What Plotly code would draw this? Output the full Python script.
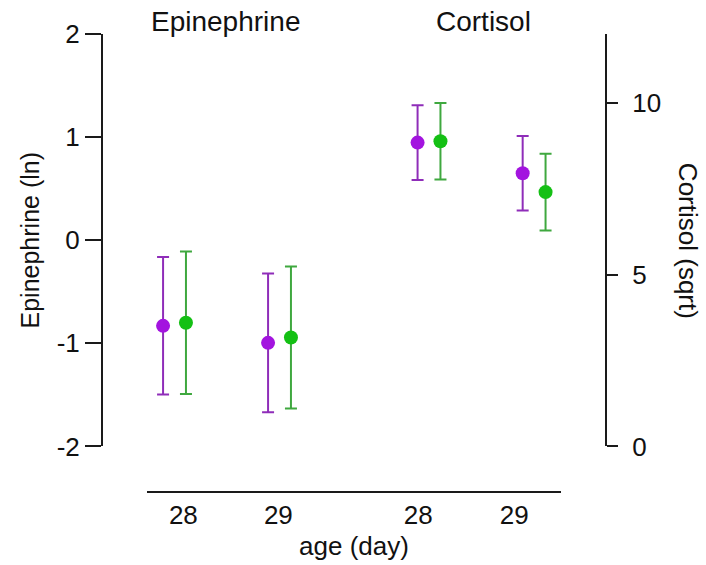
import plotly.graph_objects as go

# Measurement days and their positions along the shared x axis
days = ["28", "29"]
epi_day_pos = [1.0, 2.0]
cort_day_pos = [3.424, 4.425]
tick_pos = [1.084, 1.989, 3.322, 4.236]
tick_text = ["28", "29", "28", "29"]
pair_offset = 0.109

# Epinephrine (ln): means and error half-widths per group
epi_purple = [-0.83, -0.995]
epi_purple_err = [0.667, 0.673]
epi_green = [-0.80, -0.943]
epi_green_err = [0.69, 0.688]

# Cortisol (sqrt): means and error half-widths per group
cort_purple = [8.84, 7.95]
cort_purple_err = [1.085, 1.085]
cort_green = [8.88, 7.40]
cort_green_err = [1.115, 1.115]

# Axis ticks (plain hyphen for negatives)
epi_ticks = [-2, -1, 0, 1, 2]
epi_tick_text = ["-2", "-1", "0", "1", "2"]
cort_ticks = [0, 5, 10]

PURPLE_MARK = "#A314DF"
PURPLE_BAR = "#8F2DB9"
GREEN_MARK = "#14C014"
GREEN_BAR = "#3FA83F"
FONT = "Liberation Sans, Arial, sans-serif"
AXIS_COLOR = "#1a1a1a"


def series(xs, ys, err, mark, bar, yaxis, name):
    return go.Scatter(
        x=xs, y=ys, mode="markers", name=name, yaxis=yaxis, showlegend=False,
        marker=dict(size=14, color=mark),
        error_y=dict(type="data", array=err, visible=True,
                     color=bar, thickness=2, width=6),
    )


fig = go.Figure()
fig.add_trace(series([p - pair_offset for p in epi_day_pos], epi_purple, epi_purple_err,
                     PURPLE_MARK, PURPLE_BAR, "y", "purple"))
fig.add_trace(series([p + pair_offset for p in epi_day_pos], epi_green, epi_green_err,
                     GREEN_MARK, GREEN_BAR, "y", "green"))
fig.add_trace(series([p - pair_offset for p in cort_day_pos], cort_purple, cort_purple_err,
                     PURPLE_MARK, PURPLE_BAR, "y2", "purple"))
fig.add_trace(series([p + pair_offset for p in cort_day_pos], cort_green, cort_green_err,
                     GREEN_MARK, GREEN_BAR, "y2", "green"))

fig.update_layout(
    width=706, height=565,
    margin=dict(l=101.7, r=100.3, t=33.5, b=72.7, autoexpand=False),
    paper_bgcolor="white", plot_bgcolor="white",
    font=dict(family=FONT, color="#111111", size=26),
    xaxis=dict(
        domain=[0.0893, 0.9107], range=[0.738, 4.681],
        anchor="free", position=0, automargin=False,
        showline=True, linewidth=2, linecolor=AXIS_COLOR,
        showgrid=False, zeroline=False,
        tickmode="array", tickvals=tick_pos, ticktext=tick_text,
        ticks="", ticklabelstandoff=0,
        tickfont=dict(size=26),
        title=dict(text="age (day)", font=dict(size=26), standoff=7),
    ),
    yaxis=dict(
        domain=[0.0994, 1], range=[-2, 2],
        anchor="free", position=0, automargin=False,
        showline=True, linewidth=2, linecolor=AXIS_COLOR,
        showgrid=False, zeroline=False,
        tickmode="array", tickvals=epi_ticks, ticktext=epi_tick_text,
        ticks="outside", ticklen=16, tickwidth=2, tickcolor=AXIS_COLOR,
        tickfont=dict(size=26),
        title=dict(text="Epinephrine (ln)", font=dict(size=25), standoff=9),
    ),
    yaxis2=dict(
        domain=[0.0994, 1], range=[0, 12],
        overlaying="y", side="right", anchor="free", position=1, automargin=False,
        showline=True, linewidth=2, linecolor=AXIS_COLOR,
        showgrid=False, zeroline=False,
        tickmode="array", tickvals=cort_ticks,
        ticks="outside", ticklen=11, tickwidth=2, tickcolor=AXIS_COLOR,
        ticklabelstandoff=9,
        tickfont=dict(size=26),
    ),
    annotations=[
        dict(text="Epinephrine", x=1.484, y=1.027, xref="x", yref="paper",
             showarrow=False, font=dict(size=28), xanchor="center", yanchor="middle"),
        dict(text="Cortisol", x=3.941, y=1.027, xref="x", yref="paper",
             showarrow=False, font=dict(size=28), xanchor="center", yanchor="middle"),
        dict(text="Cortisol (sqrt)", x=1.163, y=0.548, xref="paper", yref="paper",
             textangle=90, showarrow=False, font=dict(size=26),
             xanchor="center", yanchor="middle"),
    ],
)

fig.write_html("out.html")
